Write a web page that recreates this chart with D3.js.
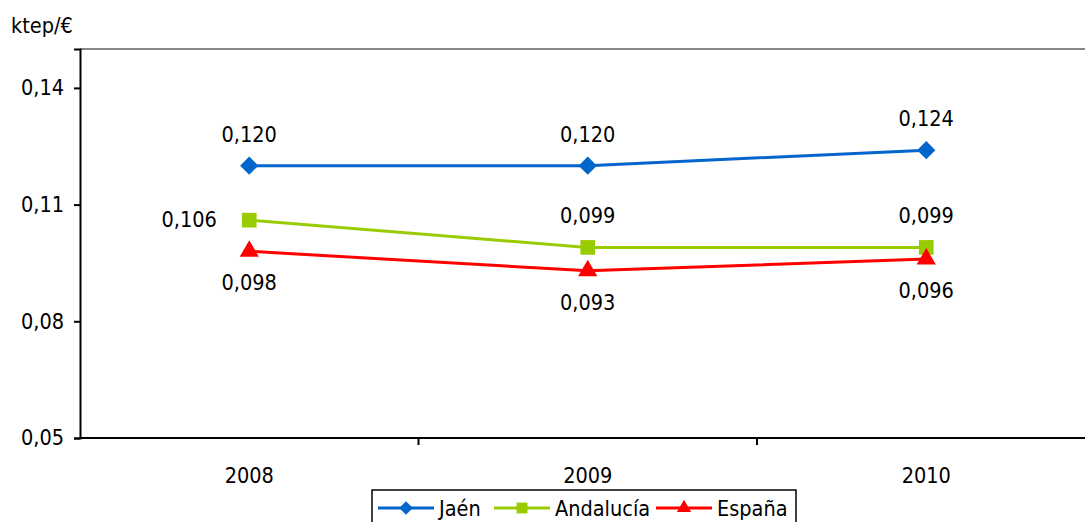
<!DOCTYPE html>
<html><head><meta charset="utf-8">
<script src="https://cdn.jsdelivr.net/npm/d3@7"></script>
<style>
body{margin:0;background:#fff;}
svg text{font-family:"DejaVu Sans Condensed","DejaVu Sans",sans-serif;font-stretch:condensed;font-size:21.5px;fill:#000;}
</style></head><body>
<svg id="c" width="1085" height="522"></svg>
<script>
const categories = ["2008","2009","2010"];
const jaen = [0.120, 0.120, 0.124];
const andalucia = [0.106, 0.099, 0.099];
const espana = [0.098, 0.093, 0.096];
const yTicks = [0.05, 0.08, 0.11, 0.14];
const seriesNames = ["Jaén","Andalucía","España"];
const yLabel = "ktep/€";

(function(){
const fmt = v => d3.format(".3f")(v).replace(".", ",");
const fmtTick = v => d3.format(".2f")(v).replace(".", ",");

const svg = d3.select("#c");
const pL = 80, pT = 49, pB = 438, pR = 1095.5;
const x = d3.scaleBand().domain(categories).range([pL, pR]);
const y = d3.scaleLinear().domain([0.05, 0.15]).range([pB, pT]);

svg.append("line").attr("x1", pL).attr("x2", pR).attr("y1", pT).attr("y2", pT)
  .attr("stroke", "#888").attr("stroke-width", 2);
svg.append("line").attr("x1", pR).attr("x2", pR).attr("y1", pT).attr("y2", pB)
  .attr("stroke", "#888").attr("stroke-width", 2);

const yAxis = svg.append("g").attr("transform", `translate(${pL},0)`)
  .call(d3.axisLeft(y).tickValues(yTicks).tickFormat(fmtTick).tickSize(6).tickPadding(10));
yAxis.select(".domain").attr("stroke", "#000").attr("stroke-width", 2);
yAxis.selectAll(".tick line").attr("stroke", "#000").attr("stroke-width", 2);
yAxis.selectAll("text").attr("font-size", null).attr("font-family", null);

const xAxis = svg.append("g").attr("transform", `translate(0,${pB})`)
  .call(d3.axisBottom(x).tickSize(0).tickPadding(30));
xAxis.select(".domain").attr("stroke", "#000").attr("stroke-width", 2).attr("d", `M${pL},0H${pR}`);
xAxis.selectAll("text").attr("font-size", null).attr("font-family", null);
const bounds = categories.slice(1).map(c => x(c));
svg.append("g").selectAll("line").data(bounds).join("line")
  .attr("x1", d => d).attr("x2", d => d).attr("y1", pB).attr("y2", pB + 7)
  .attr("stroke", "#000").attr("stroke-width", 2);

svg.append("text").attr("x", 11).attr("y", 33).text(yLabel);

const cx = c => x(c) + x.bandwidth() / 2;
const series = [
  {name: seriesNames[0], vals: jaen, color: "#0066CC", sym: d3.symbolSquare, rot: 45, size: 165, labels: categories.map(() => ({dx: 0, dy: -24}))},
  {name: seriesNames[1], vals: andalucia, color: "#99CC00", sym: d3.symbolSquare, rot: 0, size: 215, labels: [{dx: -60, dy: 7}, {dx: 0, dy: -24}, {dx: 0, dy: -24}]},
  {name: seriesNames[2], vals: espana, color: "#FF0000", sym: d3.symbolTriangle, rot: 0, size: 160, labels: categories.map(() => ({dx: 0, dy: 39}))}
];

const line = d3.line().x(d => cx(d.c)).y(d => y(d.v));
series.forEach(s => {
  const pts = categories.map((c, i) => ({c, v: s.vals[i]}));
  svg.append("path").datum(pts).attr("d", line).attr("fill", "none")
    .attr("stroke", s.color).attr("stroke-width", 3);
  svg.append("g").selectAll("path").data(pts).join("path")
    .attr("d", d3.symbol().type(s.sym).size(s.size))
    .attr("transform", d => `translate(${cx(d.c)},${y(d.v)}) rotate(${s.rot})`)
    .attr("fill", s.color);
  svg.append("g").selectAll("text").data(pts).join("text")
    .attr("x", (d, i) => cx(d.c) + s.labels[i].dx)
    .attr("y", (d, i) => y(d.v) + s.labels[i].dy)
    .attr("text-anchor", "middle")
    .text(d => fmt(d.v));
});

const lg = svg.append("g");
lg.append("rect").attr("x", 372).attr("y", 490).attr("width", 424).attr("height", 40)
  .attr("fill", "#fff").attr("stroke", "#000").attr("stroke-width", 1.5);
const legX = [378, 494, 656];
series.forEach((s, i) => {
  const g = lg.append("g").attr("transform", `translate(${legX[i]},508)`);
  g.append("line").attr("x1", 0).attr("x2", 56).attr("stroke", s.color).attr("stroke-width", 3);
  g.append("path").attr("d", d3.symbol().type(s.sym).size(s.size * 0.55)).attr("transform", `translate(28,0) rotate(${s.rot})`).attr("fill", s.color);
  g.append("text").attr("x", 61).attr("y", 8).text(s.name);
});
})();
</script>
</body></html>
